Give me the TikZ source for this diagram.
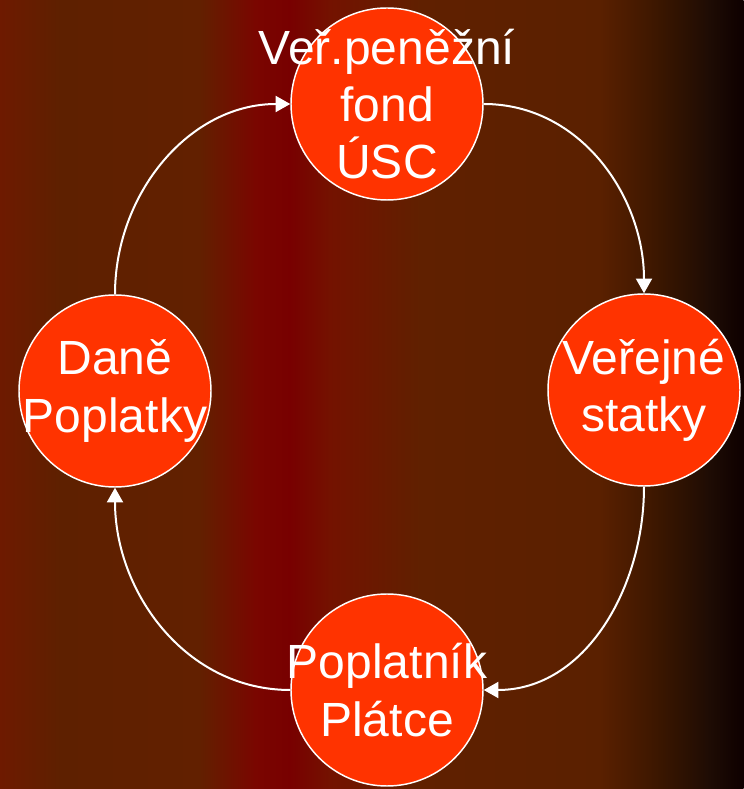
\documentclass[tikz,border=0pt]{standalone}
\usepackage{fontspec}
\setmainfont{Liberation Sans}
\usepackage{tikz}
\usetikzlibrary{calc,shapes,arrows.meta}
\usetikzlibrary{positioning}

\definecolor{bgA}{HTML}{6E1A00}
\definecolor{bgB}{HTML}{5E2000}
\definecolor{bgC}{HTML}{622000}
\definecolor{bgD}{HTML}{7A0600}
\definecolor{bgE}{HTML}{780000}
\definecolor{bgF}{HTML}{741200}
\definecolor{bgG}{HTML}{602000}
\definecolor{bgH}{HTML}{5A2000}
\definecolor{bgI}{HTML}{3A1600}
\definecolor{bgJ}{HTML}{1E0C04}
\definecolor{bgK}{HTML}{0E0000}
\definecolor{kruh}{HTML}{FF3300}

\tikzset{
	uzel/.style={circle, fill=kruh, draw=white, line width=1.1pt, minimum size=144pt,
		inner sep=0pt},
	popis/.style={text=white, align=center, font=\fontsize{36}{43}\selectfont, inner sep=0pt},
	tok/.style={draw=white, line width=1.5pt, -{Triangle[length=11pt,width=12pt]}}
}

\begin{document}
\begin{tikzpicture}[x=0.75pt,y=0.75pt]
	
	\useasboundingbox (0,0) rectangle (743,789);
	% pozadi
	\foreach \xa/\xb/\ca/\cb in {0/60/bgA/bgB, 60/200/bgB/bgC, 200/255/bgC/bgD, 255/290/bgD/bgE,
		290/330/bgE/bgF, 330/420/bgF/bgG, 420/600/bgG/bgH, 600/660/bgH/bgI, 660/710/bgI/bgJ, 710/743/bgJ/bgK}
	\shade[left color=\ca, right color=\cb] (\xa-0.5,0) rectangle (\xb+0.5,789);
	
	\node[uzel, label={[popis]center:Veř.peněžní\\fond\\ÚSC}] (fond) at (387,685) {};
	\node[uzel, label={[popis]center:Daně\\Poplatky}] (dane) at (115,398) {};
	\node[uzel, label={[popis]center:Veřejné\\statky}] (statky) at (644,399) {};
	\node[uzel, label={[popis]center:Poplatník\\Plátce}] (platce) at (387,99) {};
	
	\draw[tok] (dane.north) to[out=90,in=180] (fond.west);
	\draw[tok] (fond.east) to[out=0,in=90] (statky.north);
	\draw[tok] (statky.south) to[out=-90,in=0] (platce.east);
	\draw[tok] (platce.west) to[out=180,in=-90] (dane.south);
	
\end{tikzpicture}
\end{document}
